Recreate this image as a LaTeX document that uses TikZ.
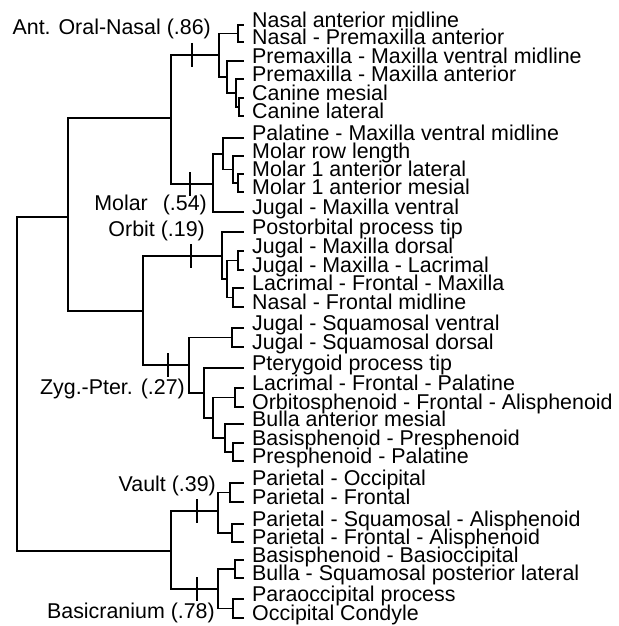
\documentclass[tikz,border=0pt]{standalone}
\usepackage{fontspec}
\setmainfont{Liberation Sans}
\begin{document}
\begin{tikzpicture}[x=1pt,y=-1pt,
  br/.style={line width=1.8pt, line join=miter},
  txt/.style={inner sep=0pt, font=\fontsize{21.4}{21.4}\selectfont, text height=0.52em, text depth=0pt},
  leaf/.style={txt, anchor=west},
  lab/.style={txt, anchor=east}]
\useasboundingbox (0,0) rectangle (618,626);
\fill[white] (0,0) rectangle (618,626);
% leaves
\node[leaf] (l1) at (252,25) {Nasal anterior midline};
\node[leaf] (l2) at (252,42) {Nasal - Premaxilla anterior};
\node[leaf] (l3) at (252,61) {Premaxilla - Maxilla ventral midline};
\node[leaf] (l4) at (252,79) {Premaxilla - Maxilla anterior};
\node[leaf] (l5) at (252,98) {Canine mesial};
\node[leaf] (l6) at (252,116) {Canine lateral};
\node[leaf] (l7) at (252,138) {Palatine - Maxilla ventral midline};
\node[leaf] (l8) at (252,156) {Molar row length};
\node[leaf] (l9) at (252,174) {Molar 1 anterior lateral};
\node[leaf] (l10) at (252,192) {Molar 1 anterior mesial};
\node[leaf] (l11) at (252,212) {Jugal - Maxilla ventral};
\node[leaf] (l12) at (252,232) {Postorbital process tip};
\node[leaf] (l13) at (252,251) {Jugal - Maxilla dorsal};
\node[leaf] (l14) at (252,270) {Jugal - Maxilla - Lacrimal};
\node[leaf] (l15) at (252,288) {Lacrimal - Frontal - Maxilla};
\node[leaf] (l16) at (252,307) {Nasal - Frontal midline};
\node[leaf] (l17) at (252,328) {Jugal - Squamosal ventral};
\node[leaf] (l18) at (252,347) {Jugal - Squamosal dorsal};
\node[leaf] (l19) at (252,368) {Pterygoid process tip};
\node[leaf] (l20) at (252,388) {Lacrimal - Frontal - Palatine};
\node[leaf] (l21) at (252,407) {Orbitosphenoid - Frontal - Alisphenoid};
\node[leaf] (l22) at (252,424) {Bulla anterior mesial};
\node[leaf] (l23) at (252,443) {Basisphenoid - Presphenoid};
\node[leaf] (l24) at (252,461) {Presphenoid - Palatine};
\node[leaf] (l25) at (252,483) {Parietal - Occipital};
\node[leaf] (l26) at (252,502) {Parietal - Frontal};
\node[leaf] (l27) at (252,524) {Parietal - Squamosal - Alisphenoid};
\node[leaf] (l28) at (252,542) {Parietal - Frontal - Alisphenoid};
\node[leaf] (l29) at (252,560) {Basisphenoid - Basioccipital};
\node[leaf] (l30) at (252,578) {Bulla - Squamosal posterior lateral};
\node[leaf] (l31) at (252,599) {Paraoccipital process};
\node[leaf] (l32) at (252,618) {Occipital Condyle};
% internal nodes
\coordinate (nNN) at (238,33.5);
\coordinate (nCC) at (239,107);
\coordinate (nPMA) at (236,93);
\coordinate (nPMVM) at (227,77);
\coordinate (nAON) at (219,55);
\coordinate (nM1) at (238,183);
\coordinate (nMRL) at (233,169.5);
\coordinate (nPal) at (223,154);
\coordinate (nMolar) at (213,184);
\coordinate (nUp1) at (171,118);
\coordinate (nJJ) at (238,260.5);
\coordinate (nLN) at (233,297.5);
\coordinate (nJJLN) at (227,279);
\coordinate (nOrbit) at (222,256);
\coordinate (nJS) at (232,337.5);
\coordinate (nLO) at (235,397.5);
\coordinate (nBP) at (233,452);
\coordinate (nZ) at (225,438);
\coordinate (nY) at (213,418);
\coordinate (nX) at (204,393);
\coordinate (nZP) at (189,365);
\coordinate (nLow1) at (143,311);
\coordinate (nUpper) at (68,217);
\coordinate (nPO) at (230,492.5);
\coordinate (nPF) at (232,533);
\coordinate (nVault) at (218,511);
\coordinate (nBB) at (235,569);
\coordinate (nPC) at (233,608.5);
\coordinate (nBasi) at (218,589);
\coordinate (nLower) at (171,551);
\coordinate (root) at (17,384);
% leaf connectors
\foreach \p/\l in {nNN/l1,nNN/l2,nPMVM/l3,nPMA/l4,nCC/l5,nCC/l6,nPal/l7,nMRL/l8,nM1/l9,nM1/l10,nMolar/l11,
  nOrbit/l12,nJJ/l13,nJJ/l14,nLN/l15,nLN/l16,nJS/l17,nJS/l18,nX/l19,nLO/l20,nLO/l21,nZ/l22,nBP/l23,nBP/l24,
  nPO/l25,nPO/l26,nPF/l27,nPF/l28,nBB/l29,nBB/l30,nPC/l31,nPC/l32}
  \draw[br] (\p) |- ([xshift=-8pt]\l.west);
% internal connectors
\foreach \p/\c in {nPMA/nCC,nPMVM/nPMA,nAON/nNN,nAON/nPMVM,nMRL/nM1,nPal/nMRL,nMolar/nPal,nUp1/nAON,nUp1/nMolar,
  nJJLN/nJJ,nJJLN/nLN,nOrbit/nJJLN,nZ/nBP,nY/nLO,nY/nZ,nX/nY,nZP/nJS,nZP/nX,nLow1/nOrbit,nLow1/nZP,
  nUpper/nUp1,nUpper/nLow1,nVault/nPO,nVault/nPF,nBasi/nBB,nBasi/nPC,nLower/nVault,nLower/nBasi,root/nUpper,root/nLower}
  \draw[br] (\p) |- (\c);
% ticks
\coordinate (tAON) at (192,55);
\coordinate (tMolar) at (190,184);
\coordinate (tOrbit) at (191,256);
\coordinate (tZP) at (168,365);
\coordinate (tVault) at (197,511);
\coordinate (tBasi) at (197,589);
\foreach \t in {tAON,tMolar,tOrbit,tZP,tVault,tBasi}
  \draw[br] ([yshift=12pt]\t) -- ([yshift=-12pt]\t);
% labels
\node[lab] (aAON) at (211,32.4) {Ant. Oral-Nasal (.86)};
\node[lab] (aMolar) at (207,207.5) {Molar\hspace{9pt} (.54)};
\node[lab] (aOrbit) at (205,233.5) {Orbit (.19)};
\node[lab] (aZP) at (185,391.5) {Zyg.-Pter. (.27)};
\node[lab] (aVault) at (216,488.5) {Vault (.39)};
\node[lab] (aBasi) at (215,615.5) {Basicranium (.78)};
\end{tikzpicture}
\end{document}
